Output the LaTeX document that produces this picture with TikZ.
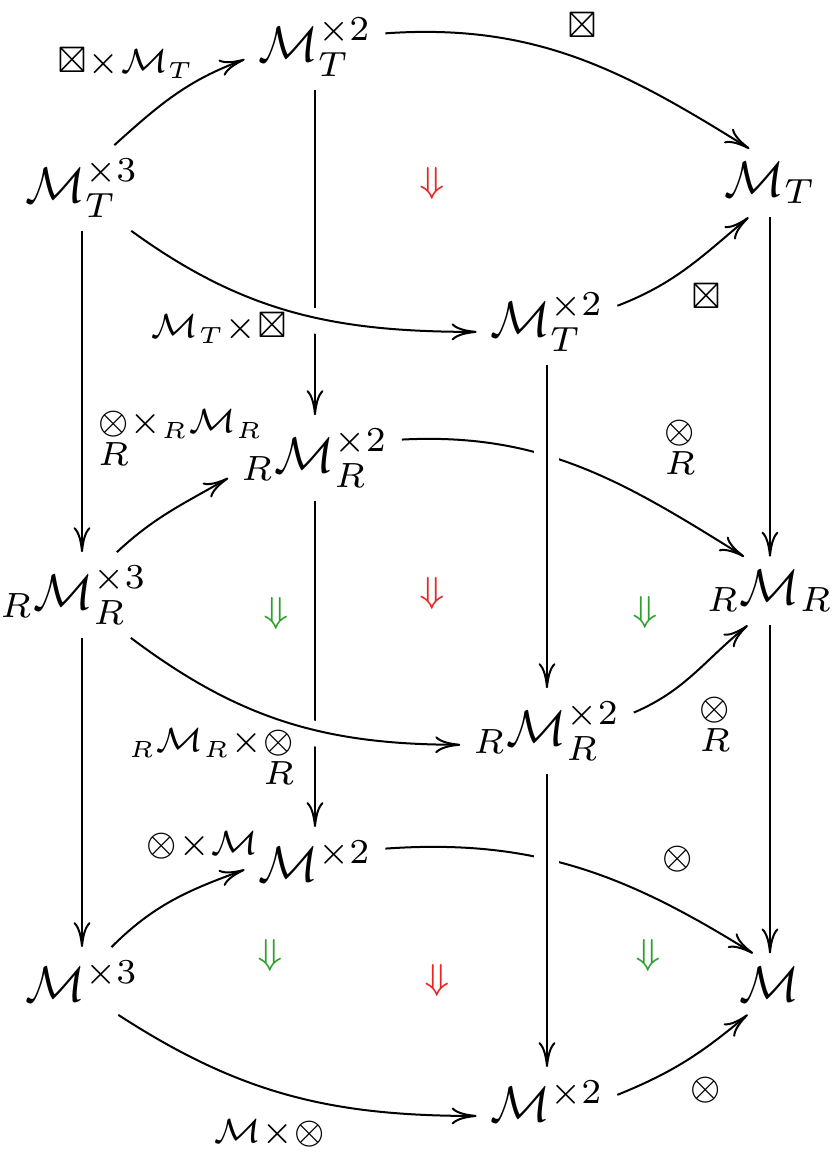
\documentclass[tikz,border=0pt]{standalone}
\usepackage{fix-cm}
\usepackage{amsmath,amssymb}
\usetikzlibrary{arrows.meta}
\definecolor{myred}{RGB}{232,35,35}
\definecolor{mygreen}{RGB}{44,160,44}
\tikzset{
  obj/.style={inner sep=2.5pt, font=\fontsize{10}{12}\selectfont},
  lab/.style={inner sep=0pt, font=\fontsize{6.7}{8}\selectfont},
  arr/.style={line width=0.4pt, -{To[length=5pt,width=3.4pt]}},
  crossover/.style={preaction={draw=white, -, line width=5pt, shorten <=9pt, shorten >=9pt}},
  dred/.style={inner sep=0pt, text=myred, font=\fontsize{7.2}{9}\selectfont},
  dgreen/.style={inner sep=0pt, text=mygreen, font=\fontsize{7.2}{9}\selectfont},
}
\newcommand{\tx}{{\times}}
\begin{document}
\begin{tikzpicture}[x=0.2pt,y=0.2pt]
\useasboundingbox (0,0) rectangle (836,-1152);
% objects
\node[obj] (MT3)   at (82,-188)  {$\mathcal{M}_T^{\times 3}$};
\node[obj] (MT2a)  at (315,-47)  {$\mathcal{M}_T^{\times 2}$};
\node[obj] (MT)    at (770,-183) {$\mathcal{M}_T$};
\node[obj] (MT2b)  at (547,-322) {$\mathcal{M}_T^{\times 2}$};
\node[obj] (RMR3)  at (74,-595)  {${}_R\mathcal{M}_R^{\times 3}$};
\node[obj] (RMR2a) at (315,-458) {${}_R\mathcal{M}_R^{\times 2}$};
\node[obj] (RMR)   at (770,-591) {${}_R\mathcal{M}_R$};
\node[obj] (RMR2b) at (547,-731) {${}_R\mathcal{M}_R^{\times 2}$};
\node[obj] (M3)    at (82,-981)  {$\mathcal{M}^{\times 3}$};
\node[obj] (M2a)   at (315,-861) {$\mathcal{M}^{\times 2}$};
\node[obj] (M)     at (770,-984) {$\mathcal{M}$};
\node[obj] (M2b)   at (547,-1101) {$\mathcal{M}^{\times 2}$};
% verticals (under)
\draw[arr] (MT3.south) -- (MT3.south |- RMR3.north);
\draw[arr] (M3.north |- RMR3.south) -- (M3.north);
\draw[arr] (MT) -- (RMR);
\draw[arr] (RMR) -- (M);
\draw[arr] (MT2a) -- (RMR2a);
\draw[arr] (RMR2a) -- (M2a);
% curves
\draw[arr] (MT3.53) to[out=42,in=200] (MT2a.190);
\draw[arr] (MT2a.11) to[out=4,in=148] (MT.121);
\draw[arr,crossover] (MT3.319) to[out=-36,in=180] (MT2b.188);
\draw[arr] (MT2b.13) to[out=21,in=220] (MT.238);
\draw[arr] (RMR3.45) to[out=43,in=210] (RMR2a.193);
\draw[arr] (RMR2a.12) to[out=3,in=148] (RMR.127);
\draw[arr,crossover] (RMR3.323) to[out=-37,in=180] (RMR2b.189);
\draw[arr] (RMR2b.12) to[out=23,in=219] (RMR.237);
\draw[arr] (M3.49) to[out=45,in=200] (M2a.187);
\draw[arr] (M2a.10) to[out=4,in=148] (M.119);
\draw[arr] (M3.317) to[out=-33,in=180] (M2b.192);
\draw[arr] (M2b.5) to[out=22,in=220] (M.234);
% verticals (over)
\draw[arr,crossover] (MT2b) -- (RMR2b);
\draw[arr,crossover] (RMR2b) -- (M2b);
% labels
\node[lab] (l1)  at (126,-63)   {$\boxtimes\tx\mathcal{M}_T$};
\node[lab] (l2)  at (582,-25)   {$\boxtimes$};
\node[lab] (l3)  at (219,-328)  {$\mathcal{M}_T\tx\boxtimes$};
\node[lab] (l4)  at (706,-296)  {$\boxtimes$};
\node[lab] (l5)  at (180,-440)  {$\underset{\textstyle R}{\otimes}\tx{}_R\mathcal{M}_R$};
\node[lab] (l6)  at (680,-450)  {$\underset{\textstyle R}{\otimes}$};
\node[lab] (l7)  at (212,-759)  {${}_R\mathcal{M}_R\tx\underset{\textstyle R}{\otimes}$};
\node[lab] (l8)  at (715,-727)  {$\underset{\textstyle R}{\otimes}$};
\node[lab] (l9)  at (202,-845)  {$\otimes\tx\mathcal{M}$};
\node[lab] (l10) at (678,-859)  {$\otimes$};
\node[lab] (l11) at (270,-1133) {$\mathcal{M}\tx\otimes$};
\node[lab] (l12) at (706,-1090) {$\otimes$};
% 2-cells
\node[dred]   (d1) at (432,-183) {$\Downarrow$};
\node[dred]   (d2) at (432,-593) {$\Downarrow$};
\node[dred]   (d3) at (437,-980) {$\Downarrow$};
\node[dgreen] (d4) at (276,-613) {$\Downarrow$};
\node[dgreen] (d5) at (645,-612) {$\Downarrow$};
\node[dgreen] (d6) at (270,-955) {$\Downarrow$};
\node[dgreen] (d7) at (648,-955) {$\Downarrow$};
\end{tikzpicture}
\end{document}
